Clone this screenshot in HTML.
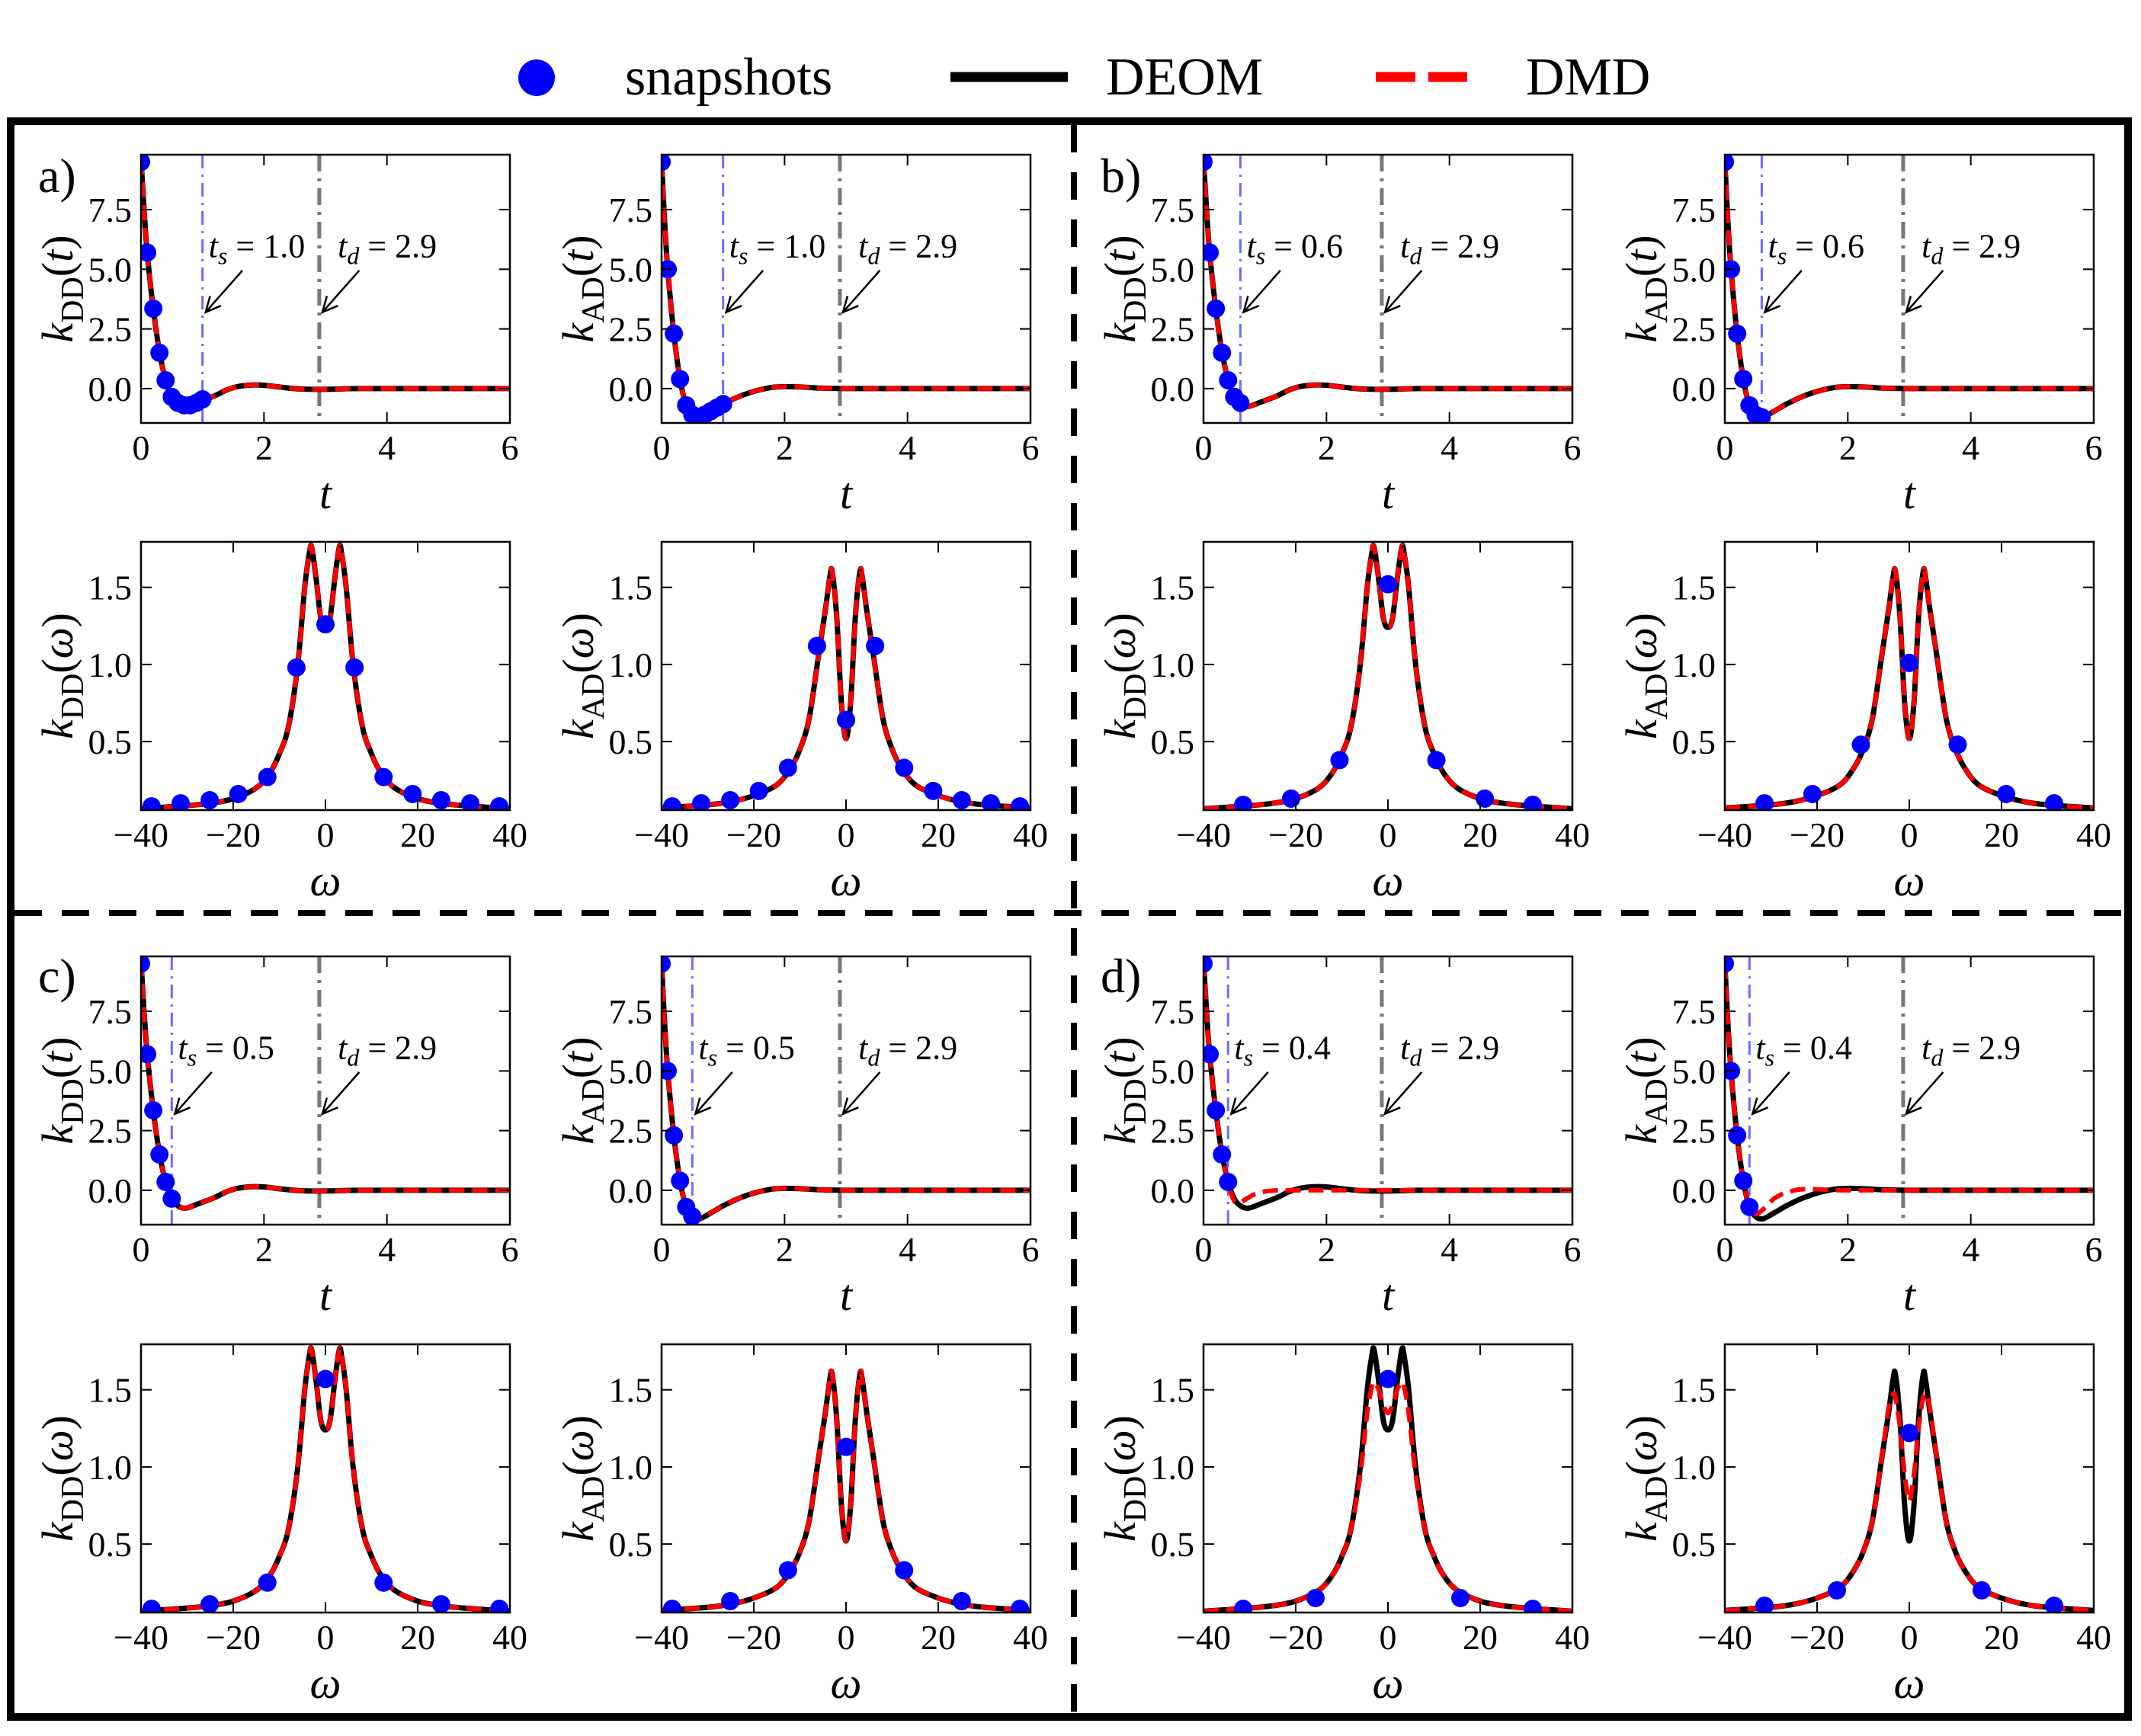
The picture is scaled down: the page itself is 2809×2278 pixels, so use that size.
<!DOCTYPE html>
<html><head><meta charset="utf-8"><style>
html,body{margin:0;padding:0;background:#fff;}
svg, svg text{font-family:"Liberation Serif","DejaVu Serif",serif;}
</style></head><body>
<svg id="fig" width="2809" height="2273" viewBox="0 0 2809 2273" xmlns="http://www.w3.org/2000/svg" font-family="Liberation Serif, DejaVu Serif, serif">
<g>
  <ellipse cx="704" cy="102" rx="24" ry="24" fill="#0000ff"/>
  <text x="820" y="124" font-size="70" font-family="Liberation Serif, serif">snapshots</text>
  <line x1="1247" y1="101" x2="1401" y2="101" stroke="#000" stroke-width="13"/>
  <text x="1451" y="124" font-size="70" font-family="Liberation Serif, serif">DEOM</text>
  <line x1="1805" y1="101" x2="1925" y2="101" stroke="#f00" stroke-width="13" stroke-dasharray="52,17"/>
  <text x="2002" y="124" font-size="70" font-family="Liberation Serif, serif">DMD</text>
</g>
<rect x="14" y="159" width="2778" height="2094" fill="none" stroke="#000" stroke-width="10"/>
<line x1="1409" y1="164" x2="1409" y2="2248" stroke="#000" stroke-width="8" stroke-dasharray="36,26"/>
<line x1="19" y1="1198" x2="2787" y2="1198" stroke="#000" stroke-width="8" stroke-dasharray="36,26"/>
<g id="plots" font-family="Liberation Serif, serif"></g>
</svg>
<script>
// ---- data ----
const tGrid = [0,0.05,0.1,0.2,0.3,0.4,0.5,0.6,0.7,0.8,0.9,1.0,1.2,1.4,1.6,1.8,2.0,2.3,2.6,3.0,3.5,4,5,6];
const deomDDt = [9.6,7.5,5.7,3.35,1.55,0.35,-0.35,-0.65,-0.75,-0.7,-0.6,-0.5,-0.3,-0.05,0.1,0.15,0.14,0.05,-0.02,-0.03,0,0,0,0];
const deomADt = [9.5,7.0,5.0,2.3,0.4,-0.7,-1.1,-1.2,-1.1,-0.95,-0.8,-0.65,-0.4,-0.2,-0.05,0.05,0.08,0.06,0.02,0,0,0,0,0];
const dmdDDt_d = [9.6,7.5,5.7,3.35,1.55,0.35,-0.45,-0.5,-0.35,-0.2,-0.12,-0.05,0,0,0,0,0,0,0,0,0,0,0,0];
const dmdADt_d = [9.5,7.0,5.0,2.3,0.4,-0.7,-1.0,-0.85,-0.6,-0.35,-0.2,-0.1,0.03,0.05,0.03,0.01,0,0,0,0,0,0,0,0];
const snapT_a = [0,0.1,0.2,0.3,0.4,0.5,0.6,0.7,0.8,0.9,1.0];
const snapDD_a = [9.5,5.7,3.35,1.5,0.35,-0.35,-0.6,-0.7,-0.7,-0.6,-0.45];
const snapAD_a = [9.5,5.0,2.3,0.4,-0.7,-1.1,-1.2,-1.1,-0.95,-0.8,-0.65];
const snapT_b = [0,0.1,0.2,0.3,0.4,0.5,0.6];
const snapDD_b = [9.5,5.7,3.35,1.5,0.35,-0.35,-0.6];
const snapAD_b = [9.5,5.0,2.3,0.4,-0.7,-1.1,-1.2];
const snapT_c = [0,0.1,0.2,0.3,0.4,0.5];
const snapDD_c = [9.5,5.7,3.35,1.5,0.35,-0.35];
const snapAD_c = [9.5,5.0,2.3,0.4,-0.7,-1.1];
const snapT_d = [0,0.1,0.2,0.3,0.4];
const snapDD_d = [9.5,5.7,3.35,1.5,0.35];
const snapAD_d = [9.5,5.0,2.3,0.4,-0.7];
const wGrid = [-40,-30,-25,-20,-15,-12,-10,-8,-6,-4.5,-3.5,-3,-2,-1,0,1,2,3,3.5,4.5,6,8,10,12,15,20,25,30,40];
const deomDDw = [0.065,0.085,0.1,0.13,0.2,0.3,0.42,0.6,1.0,1.5,1.72,1.76,1.55,1.3,1.24,1.3,1.55,1.76,1.72,1.5,1.0,0.6,0.42,0.3,0.2,0.13,0.1,0.085,0.065];
const deomADw = [0.07,0.09,0.11,0.15,0.22,0.33,0.45,0.65,1.05,1.35,1.57,1.6,1.3,0.75,0.52,0.75,1.3,1.6,1.57,1.35,1.05,0.65,0.45,0.33,0.22,0.15,0.11,0.09,0.07];
const dmdDDw_d = [0.065,0.085,0.1,0.13,0.2,0.3,0.42,0.6,0.95,1.35,1.52,1.55,1.5,1.4,1.35,1.4,1.5,1.55,1.52,1.35,0.95,0.6,0.42,0.3,0.2,0.13,0.1,0.085,0.065];
const dmdADw_d = [0.07,0.09,0.11,0.15,0.22,0.33,0.45,0.65,1.05,1.38,1.47,1.45,1.25,0.95,0.78,0.95,1.25,1.45,1.47,1.38,1.05,0.65,0.45,0.33,0.22,0.15,0.11,0.09,0.07];
const snapW_a = [-37.7,-31.4,-25.1,-18.9,-12.6,-6.3,0,6.3,12.6,18.9,25.1,31.4,37.7];
const snapDDw_a = [0.08,0.1,0.12,0.16,0.27,0.98,1.26,0.98,0.27,0.16,0.12,0.1,0.08];
const snapADw_a = [0.08,0.1,0.12,0.18,0.33,1.12,0.64,1.12,0.33,0.18,0.12,0.1,0.08];
const snapW_b = [-31.4,-21,-10.5,0,10.5,21,31.4];
const snapDDw_b = [0.09,0.13,0.38,1.52,0.38,0.13,0.09];
const snapADw_b = [0.1,0.16,0.48,1.01,0.48,0.16,0.1];
const snapW_c = [-37.7,-25.1,-12.6,0,12.6,25.1,37.7];
const snapDDw_c = [0.08,0.11,0.25,1.57,0.25,0.11,0.08];
const snapADw_c = [0.08,0.13,0.33,1.13,0.33,0.13,0.08];
const snapW_d = [-31.4,-15.7,0,15.7,31.4];
const snapDDw_d = [0.08,0.15,1.57,0.15,0.08];
const snapADw_d = [0.1,0.2,1.22,0.2,0.1];
const tTicks = [0,2,4,6];
const tYTicks = [0,2.5,5,7.5];
const tYTickLabels = ["0.0","2.5","5.0","7.5"];
const wTicks = [-40,-20,0,20,40];
const wTickLabels = ["\u221240","\u221220","0","20","40"];
const wYTicks = [0.5,1.0,1.5];
const wYTickLabels = ["0.5","1.0","1.5"];
const tsValues = [1.0,0.6,0.5,0.4];
const tdValue = 2.9;

const NS = "http://www.w3.org/2000/svg";
const FONT = "Liberation Serif, DejaVu Serif, serif";
const root = document.getElementById('plots');
function mk(tag, attrs, parent){ const e=document.createElementNS(NS,tag); for(const k in attrs) e.setAttribute(k,attrs[k]); if(tag==='text') e.setAttribute('font-family',FONT); (parent||root).appendChild(e); return e; }
function smoothPath(xs, ys, X, Y){
  const P = xs.map((x,i)=>[X(x),Y(ys[i])]);
  let d = "M"+P[0][0].toFixed(1)+","+P[0][1].toFixed(1);
  for(let i=0;i<P.length-1;i++){
    const p0=P[Math.max(i-1,0)], p1=P[i], p2=P[i+1], p3=P[Math.min(i+2,P.length-1)];
    const c1=[p1[0]+(p2[0]-p0[0])/6, p1[1]+(p2[1]-p0[1])/6];
    const c2=[p2[0]-(p3[0]-p1[0])/6, p2[1]-(p3[1]-p1[1])/6];
    d += " C"+c1[0].toFixed(1)+","+c1[1].toFixed(1)+" "+c2[0].toFixed(1)+","+c2[1].toFixed(1)+" "+p2[0].toFixed(1)+","+p2[1].toFixed(1);
  }
  return d;
}
let clipId = 0;
function subplot(o){
  const g = mk('g',{});
  
  
  const L=o.x, T=o.y, W=484, H=352;
  const X = v => L + (v-o.xlim[0])/(o.xlim[1]-o.xlim[0])*W;
  const Y = v => T + H - (v-o.ylim[0])/(o.ylim[1]-o.ylim[0])*H;
  const cid = 'clip'+(clipId++);
  const cp = mk('clipPath',{id:cid},g); mk('rect',{x:L,y:T,width:W,height:H},cp);
  const plotG = mk('g',{'clip-path':'url(#'+cid+')'},g);
  if(o.vlines){
    o.vlines.forEach(v=>{
      const ln = mk('line',{x1:X(v.x),x2:X(v.x),y1:T,y2:T+H,stroke:v.color,'stroke-width':v.w,'stroke-dasharray':v.dash},plotG);
      
      
    });
  }
  const deom = mk('path',{d:smoothPath(o.xs,o.deom,X,Y),fill:'none',stroke:'#000','stroke-width':7},plotG);
  
  
  const dmd = mk('path',{d:smoothPath(o.xs,o.dmd,X,Y),fill:'none',stroke:'#f00','stroke-width':6,'stroke-dasharray':'20,10'},plotG);
  
  
  o.sx.forEach((sx,i)=>{
    const c = mk('circle',{cx:X(sx),cy:Y(o.sy[i]),r:12,fill:'#0000ff'},plotG);
    
    
  });
  mk('rect',{x:L,y:T,width:W,height:H,fill:'none',stroke:'#000','stroke-width':2.5},g);
  o.xticks.forEach((v,i)=>{
    const px=X(v);
    mk('line',{x1:px,x2:px,y1:T+H,y2:T+H-14,stroke:'#000','stroke-width':2},g);
    mk('line',{x1:px,x2:px,y1:T,y2:T+14,stroke:'#000','stroke-width':2},g);
    const t = mk('text',{x:px,y:T+H+48,'font-size':46,'text-anchor':'middle'},g);
    t.textContent = o.xtickLabels[i];
    
    
  });
  o.yticks.forEach((v,i)=>{
    const py=Y(v);
    mk('line',{x1:L,x2:L+14,y1:py,y2:py,stroke:'#000','stroke-width':2},g);
    mk('line',{x1:L+W,x2:L+W-14,y1:py,y2:py,stroke:'#000','stroke-width':2},g);
    const t = mk('text',{x:L-12,y:py+16,'font-size':46,'text-anchor':'end'},g);
    t.textContent = o.ytickLabels[i];
    
    
  });
  const xl = mk('text',{x:L+W/2,y:T+H+112,'font-size':58,'font-style':'italic','text-anchor':'middle'},g);
  xl.textContent = o.xlabel;
  
  
  const yl = mk('text',{transform:'translate('+(L-90)+','+(T+H/2)+') rotate(-90)','font-size':58,'text-anchor':'middle'},g);
  yl.innerHTML = '<tspan font-style="italic">k</tspan><tspan font-size="42" dy="14">'+o.sub+'</tspan><tspan dy="-14">(</tspan><tspan font-style="italic">'+o.arg+'</tspan>)';
  
  
  if(o.ann){
    o.ann.forEach(a=>{
      const t = mk('text',{x:X(a.x+a.tx),y:Y(5.5),'font-size':44},g);
      t.innerHTML = '<tspan font-style="italic">t</tspan><tspan font-style="italic" font-size="32" dy="9">'+a.s+'</tspan><tspan dy="-9"> = '+a.x.toFixed(1)+'</tspan>';
      
      
      const x1=X(a.x+0.65), y1=Y(4.95), x2=X(a.x+0.05), y2=Y(3.2);
      mk('line',{x1:x1,y1:y1,x2:x2,y2:y2,stroke:'#000','stroke-width':2.5},g);
      const ang=Math.atan2(y2-y1,x2-x1), hl=22;
      mk('polyline',{points:(x2-hl*Math.cos(ang-0.45))+','+(y2-hl*Math.sin(ang-0.45))+' '+x2+','+y2+' '+(x2-hl*Math.cos(ang+0.45))+','+(y2-hl*Math.sin(ang+0.45)),fill:'none',stroke:'#000','stroke-width':2.5},g);
    });
  }
}
const panels = [
  {k:'a',cx:[185,868],ty:203,wy:711,ts:tsValues[0],sT:snapT_a,sDD:snapDD_a,sAD:snapAD_a,sW:snapW_a,sDDw:snapDDw_a,sADw:snapADw_a,lx:50,ly:252,tx:0.1},
  {k:'b',cx:[1579,2263],ty:203,wy:711,ts:tsValues[1],sT:snapT_b,sDD:snapDD_b,sAD:snapAD_b,sW:snapW_b,sDDw:snapDDw_b,sADw:snapADw_b,lx:1444,ly:252,tx:0.1},
  {k:'c',cx:[185,868],ty:1255,wy:1764,ts:tsValues[2],sT:snapT_c,sDD:snapDD_c,sAD:snapAD_c,sW:snapW_c,sDDw:snapDDw_c,sADw:snapADw_c,lx:50,ly:1302,tx:0.1},
  {k:'d',cx:[1579,2263],ty:1255,wy:1764,ts:tsValues[3],sT:snapT_d,sDD:snapDD_d,sAD:snapAD_d,sW:snapW_d,sDDw:snapDDw_d,sADw:snapADw_d,lx:1444,ly:1302,tx:0.1}
];
panels.forEach(p=>{
  const lab = mk('text',{x:p.lx,y:p.ly,'font-size':64});
  lab.textContent = p.k+')';
  
  
  const isD = p.k==='d';
  ['DD','AD'].forEach((s,ci)=>{
    const vl=[{x:p.ts,color:'#6b6bff',w:3,dash:'18,8,3,8',name:'ts-line'},{x:tdValue,color:'#777',w:5,dash:'22,9,4,9',name:'td-line'}];
    subplot({name:'panel-'+p.k+'-k'+s+'-time',x:p.cx[ci],y:p.ty,xlim:[0,6],ylim:[-1.44,9.8],
      xs:tGrid,deom:s==='DD'?deomDDt:deomADt,
      dmd:isD?(s==='DD'?dmdDDt_d:dmdADt_d):(s==='DD'?deomDDt:deomADt),
      sx:p.sT,sy:s==='DD'?p.sDD:p.sAD,xticks:tTicks,xtickLabels:tTicks.map(String),
      yticks:tYTicks,ytickLabels:tYTickLabels,xlabel:'t',sub:s,arg:'t',vlines:vl,
      ann:[{x:p.ts,s:'s',tx:p.tx,name:'ts'},{x:tdValue,s:'d',tx:0.3,name:'td'}]});
    subplot({name:'panel-'+p.k+'-k'+s+'-freq',x:p.cx[ci],y:p.wy,xlim:[-40,40],ylim:[0.056,1.795],
      xs:wGrid,deom:s==='DD'?deomDDw:deomADw,
      dmd:isD?(s==='DD'?dmdDDw_d:dmdADw_d):(s==='DD'?deomDDw:deomADw),
      sx:p.sW,sy:s==='DD'?p.sDDw:p.sADw,xticks:wTicks,xtickLabels:wTickLabels,
      yticks:wYTicks,ytickLabels:wYTickLabels,xlabel:'\u03c9',sub:s,arg:'\u03c9'});
  });
});
</script>
</body></html>
